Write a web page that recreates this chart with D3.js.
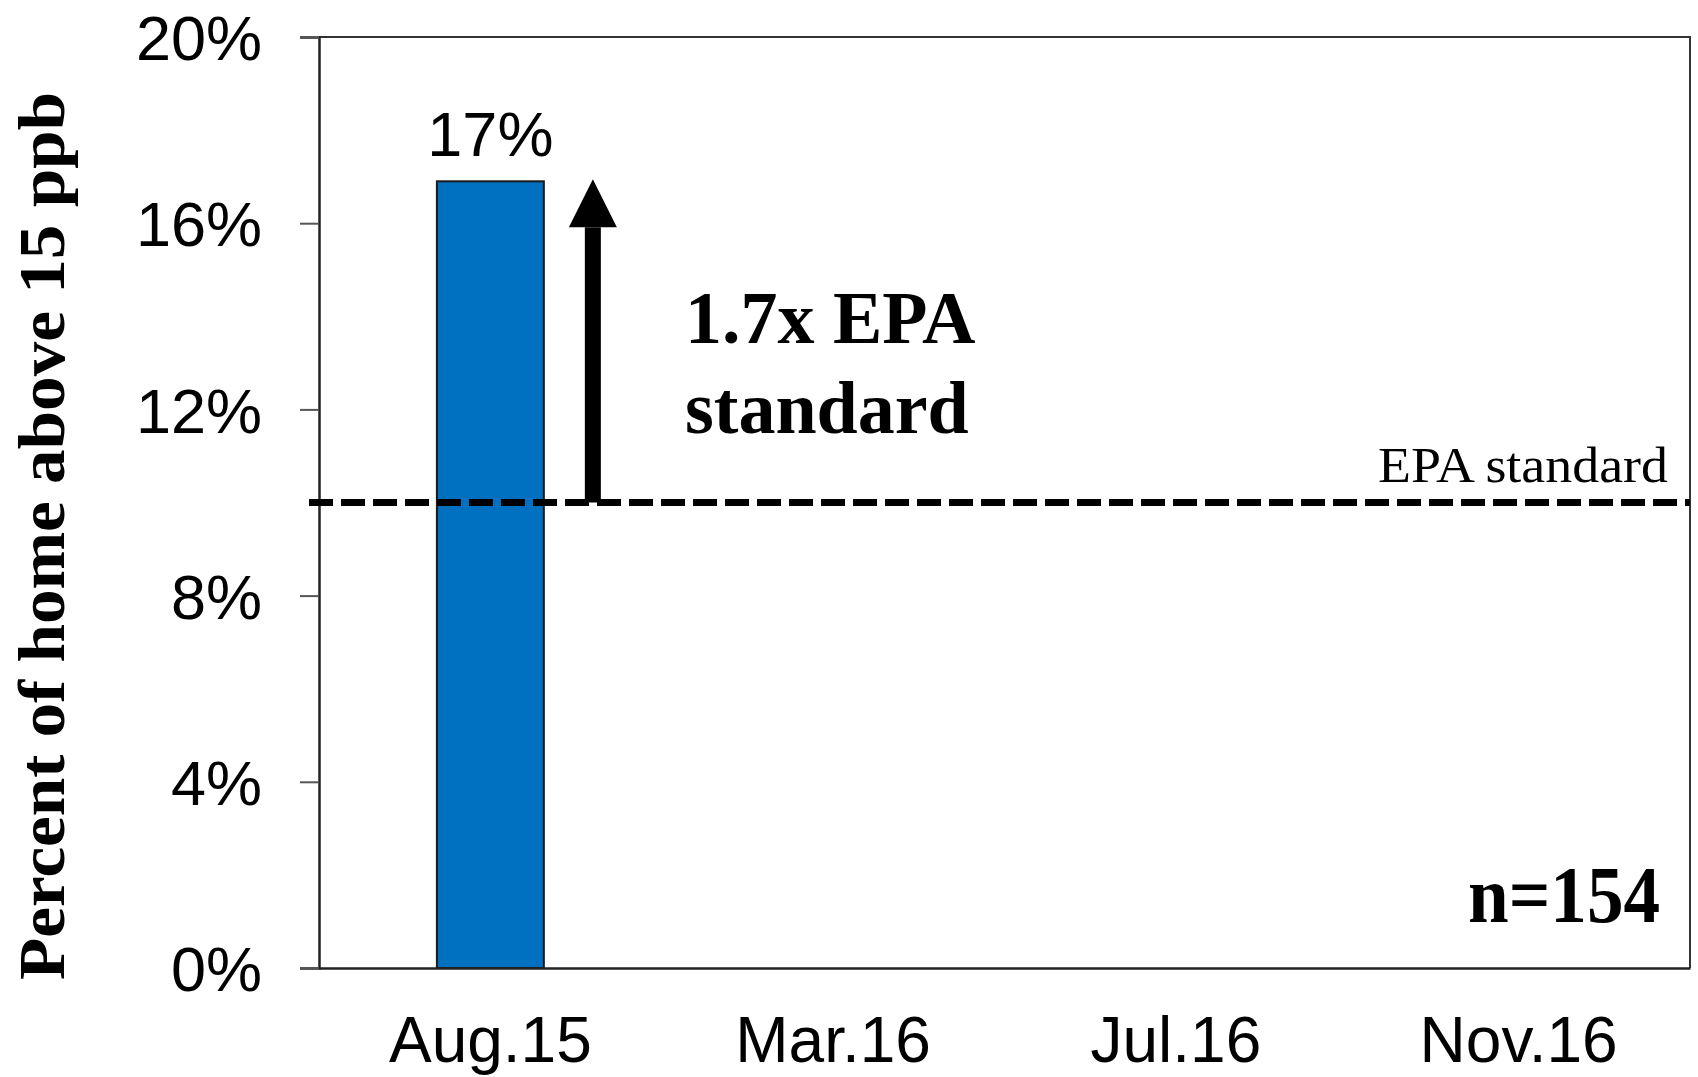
<!DOCTYPE html>
<html>
<head>
<meta charset="utf-8">
<script src="https://cdn.jsdelivr.net/npm/d3@7"></script>
<style>
  html, body { margin: 0; padding: 0; background: #fff; }
  svg { display: block; }
</style>
</head>
<body>
<svg id="chart" width="1698" height="1077"></svg>
<script>
// ---- data ----
const categories = ["Aug.15", "Mar.16", "Jul.16", "Nov.16"];
const values = [16.9, null, null, null];
const valueLabels = ["17%", "", "", ""];
const yTicks = [0, 4, 8, 12, 16, 20];
const epaStandard = 10;
const annotationLines = ["1.7x EPA", "standard"];
const epaLabel = "EPA standard";
const sampleLabel = "n=154";
const yTitle = "Percent of home above 15 ppb";

// ---- layout ----
const svg = d3.select("#chart");
const m = { left: 319, right: 1690, top: 37, bottom: 968 };

const x = d3.scaleBand().domain(categories).range([m.left, m.right])
  .paddingInner(0.688).paddingOuter(0.344);
const y = d3.scaleLinear().domain([0, 20]).range([m.bottom, m.top]);

// frame (top/right)
svg.append("path")
  .attr("d", `M${m.left},${m.top}H${m.right}V${m.bottom}`)
  .attr("fill", "none").attr("stroke", "#333").attr("stroke-width", 2);

// bars
const data = categories.map((c, i) => ({ c, v: values[i], label: valueLabels[i] }));
svg.append("g").selectAll("rect")
  .data(data.filter(d => d.v != null))
  .join("rect")
  .attr("x", d => x(d.c))
  .attr("y", d => y(d.v))
  .attr("width", x.bandwidth())
  .attr("height", d => y(0) - y(d.v))
  .attr("fill", "#0070C0")
  .attr("stroke", "#1a1a1a")
  .attr("stroke-width", 2);

// value labels
svg.append("g").selectAll("text")
  .data(data.filter(d => d.v != null))
  .join("text")
  .attr("x", d => x(d.c) + x.bandwidth() / 2)
  .attr("y", d => y(d.v) - 25)
  .attr("text-anchor", "middle")
  .attr("font-family", "Liberation Sans, Arial, sans-serif")
  .attr("font-size", 63)
  .attr("fill", "#000")
  .text(d => d.label);

// y axis
const yAxis = d3.axisLeft(y).tickValues(yTicks).tickFormat(d => d + "%").tickSize(19).tickPadding(38);
const gy = svg.append("g").attr("transform", `translate(${m.left},0)`).call(yAxis);
gy.select(".domain").attr("stroke", "#222").attr("stroke-width", 2.5);
gy.selectAll(".tick line").attr("stroke", "#555").attr("stroke-width", 2);
gy.selectAll(".tick text")
  .attr("font-family", "Liberation Sans, Arial, sans-serif")
  .attr("font-size", 63).attr("fill", "#000").attr("dy", "0.36em");

// x axis
const xAxis = d3.axisBottom(x).tickSize(0).tickPadding(49);
const gx = svg.append("g").attr("transform", `translate(0,${m.bottom})`).call(xAxis);
gx.select(".domain").attr("stroke", "#222").attr("stroke-width", 2.5);
gx.selectAll(".tick text")
  .attr("font-family", "Liberation Sans, Arial, sans-serif")
  .attr("font-size", 64).attr("fill", "#000");
// extend baseline to 0% tick
svg.append("line").attr("x1", m.left - 19).attr("x2", m.left)
  .attr("y1", y(0)).attr("y2", y(0)).attr("stroke", "#555").attr("stroke-width", 2);

// EPA dashed line
svg.append("line")
  .attr("x1", 309).attr("x2", m.right)
  .attr("y1", y(epaStandard)).attr("y2", y(epaStandard))
  .attr("stroke", "#000").attr("stroke-width", 7)
  .attr("stroke-dasharray", "24,8");

svg.append("text")
  .attr("x", 1668).attr("y", y(epaStandard) - 21)
  .attr("text-anchor", "end")
  .attr("font-family", "Liberation Serif, Times New Roman, serif")
  .attr("font-size", 50).attr("fill", "#000")
  .attr("textLength", 290).attr("lengthAdjust", "spacingAndGlyphs")
  .text(epaLabel);

// arrow
const ax = x(categories[0]) + x.bandwidth() + 49;
const yTop = y(values[0]);
const yBase = y(epaStandard);
svg.append("rect")
  .attr("x", ax - 8).attr("y", yTop + 46)
  .attr("width", 16).attr("height", yBase - yTop - 46)
  .attr("fill", "#000");
svg.append("path")
  .attr("d", `M${ax},${yTop - 2}L${ax + 24},${yTop + 46}L${ax - 24},${yTop + 46}Z`)
  .attr("fill", "#000");

// annotation
const ann = svg.append("text")
  .attr("font-family", "Liberation Serif, Times New Roman, serif")
  .attr("font-weight", "bold").attr("font-size", 74).attr("fill", "#000");
annotationLines.forEach((t, i) => {
  ann.append("tspan").attr("x", 685).attr("y", 343 + i * 90).text(t);
});

// n label
svg.append("text")
  .attr("x", 1660).attr("y", 922)
  .attr("text-anchor", "end")
  .attr("font-family", "Liberation Serif, Times New Roman, serif")
  .attr("font-weight", "bold").attr("font-size", 80).attr("fill", "#000")
  .attr("textLength", 192).attr("lengthAdjust", "spacingAndGlyphs")
  .text(sampleLabel);

// y title
svg.append("text")
  .attr("transform", `translate(64,${(92 + 980) / 2}) rotate(-90)`)
  .attr("text-anchor", "middle")
  .attr("font-family", "Liberation Serif, Times New Roman, serif")
  .attr("font-weight", "bold").attr("font-size", 66).attr("fill", "#000")
  .attr("textLength", 888).attr("lengthAdjust", "spacingAndGlyphs")
  .text(yTitle);
</script>
</body>
</html>
